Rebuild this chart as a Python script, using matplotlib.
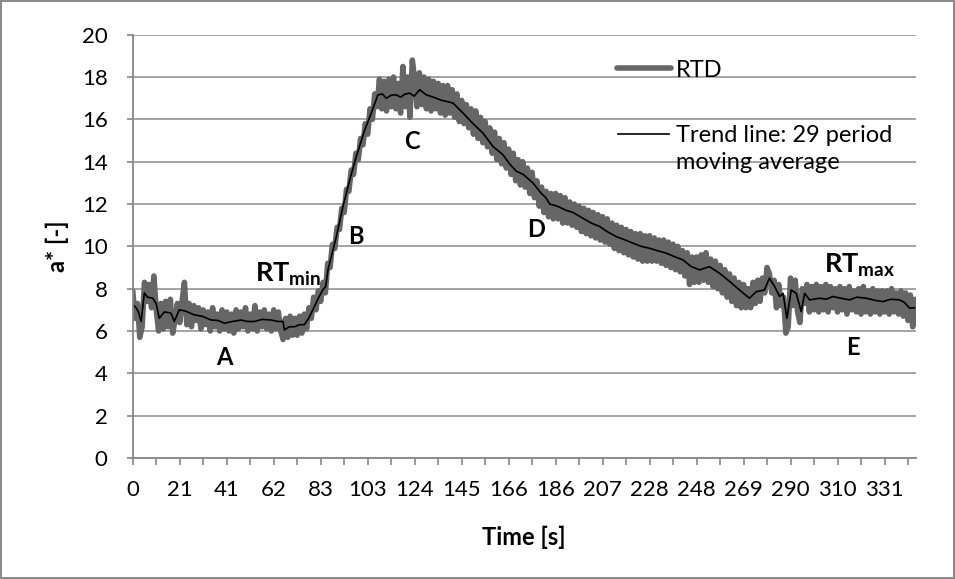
import matplotlib
matplotlib.use("Agg")
import matplotlib.pyplot as plt
from matplotlib.lines import Line2D
import numpy as np

plt.rcParams['font.family'] = ['Lato', 'DejaVu Sans']
plt.rcParams['mathtext.fontset'] = 'custom'
plt.rcParams['mathtext.rm'] = 'Lato'
plt.rcParams['mathtext.bf'] = 'Lato:bold'

# --- data ---
rtd_step = 1.035  # s between RTD samples shown
rtd_values = [
    # 0 - 20 s
    7.9, 6.6, 7.3, 5.7, 6.2, 8.3, 7.4, 8.2, 7.1, 8.6, 7.0, 6.0, 7.3, 6.1, 7.4, 6.2, 7.5, 5.9, 6.5, 7.3,
    # 21 - 40 s
    6.4, 7.4, 8.3, 6.3, 7.3, 6.2, 7.2, 6.5, 7.1, 6.1, 7.0, 6.3, 6.9, 6.0, 7.1, 6.2, 6.8, 6.0, 7.0, 6.1,
    # 41 - 61 s
    6.9, 6.0, 6.8, 5.9, 7.0, 6.1, 6.9, 6.2, 7.1, 6.0, 6.8, 6.1, 7.2, 6.0, 6.9, 6.2, 7.0, 6.1, 6.8, 6.0,
    # 62 - 82 s
    7.0, 6.1, 6.9, 6.0, 5.6, 6.6, 5.7, 6.7, 5.8, 6.6, 5.8, 6.7, 5.9, 6.8, 6.1, 7.1, 6.6, 7.6, 7.0, 7.9,
    # 83 - 102 s
    7.4, 8.3, 7.8, 9.2, 9.0, 10.1, 9.9, 10.9, 10.8, 11.8, 11.6, 12.7, 12.6, 13.6, 13.4, 14.4, 14.1, 15.1, 14.8, 15.8,
    # 103 - 123 s
    15.3, 16.5, 16.0, 17.2, 16.6, 17.9, 16.5, 17.8, 16.4, 17.9, 16.6, 18.0, 16.5, 17.7, 16.3, 18.5, 16.6, 18.0, 16.1, 18.8,
    # 124 - 144 s
    17.9, 16.6, 18.2, 16.7, 18.0, 16.5, 17.9, 16.4, 17.8, 16.5, 17.7, 16.3, 17.6, 16.2, 17.6, 16.3, 17.4, 16.1, 17.2, 15.9,
    # 145 - 165 s
    16.9, 15.8, 16.7, 15.6, 16.5, 15.3, 16.4, 15.1, 16.1, 14.9, 15.9, 14.7, 15.6, 14.4, 15.4, 14.1, 15.1, 13.9, 14.9, 13.7,
    # 166 - 185 s
    14.6, 13.4, 14.4, 13.1, 14.1, 12.9, 14.0, 12.8, 13.7, 12.5, 13.5, 12.3, 13.1, 11.9, 12.8, 11.6, 12.6, 11.4, 12.5, 11.3,
    # 186 - 206 s
    12.5, 11.3, 12.4, 11.1, 12.3, 11.1, 12.1, 11.0, 12.0, 10.9, 11.9, 10.7, 11.8, 10.6, 11.7, 10.5, 11.6, 10.4, 11.5, 10.3,
    # 207 - 227 s
    11.4, 10.2, 11.3, 10.1, 11.1, 9.9, 11.0, 9.8, 10.9, 9.7, 10.8, 9.6, 10.7, 9.5, 10.6, 9.4, 10.6, 9.3, 10.5, 9.3,
    # 228 - 247 s
    10.5, 9.3, 10.4, 9.3, 10.3, 9.2, 10.3, 9.1, 10.2, 9.0, 10.1, 8.9, 10.0, 8.8, 9.8, 8.6, 9.7, 8.2, 9.5, 8.3,
    # 248 - 268 s
    9.5, 8.3, 9.6, 8.4, 9.7, 8.3, 9.4, 8.1, 9.3, 8.0, 9.1, 7.8, 8.9, 7.6, 8.7, 7.4, 8.5, 7.2, 8.3, 7.1,
    # 269 - 289 s
    8.2, 7.1, 8.0, 7.1, 8.3, 7.3, 8.4, 7.4, 8.5, 7.8, 9.0, 8.7, 7.8, 8.4, 7.1, 8.2, 7.2, 7.6, 5.9, 6.2,
    # 290 - 310 s
    8.5, 7.2, 8.4, 6.9, 6.4, 8.0, 7.3, 8.2, 6.9, 8.1, 7.0, 8.2, 6.9, 8.1, 7.0, 8.2, 6.9, 8.1, 7.1, 8.0,
    # 310 - 330 s
    6.9, 8.1, 7.0, 8.0, 6.8, 8.1, 7.0, 7.9, 6.9, 8.0, 6.8, 8.1, 6.9, 7.9, 6.8, 8.0, 6.9, 7.9, 6.8, 7.9,
    # 331 - 345 s
    6.9, 7.9, 6.8, 8.0, 6.9, 7.8, 6.8, 7.9, 6.7, 7.8, 6.5, 7.7, 6.2, 7.5,
]

trend_t = [
    0, 1.5, 2.5, 3.7, 5.1, 6.5, 8.8, 10.3, 11.7, 13.9, 16.8, 18.3, 20.5, 23.0,
    27.2, 30.5, 34.5, 37.5, 40.4, 44, 47.7, 50.5, 53.6, 57, 60.9, 64, 66.2,
    66.8, 69, 71.2, 73.5, 75.6, 77.5, 80, 82, 83.7, 85, 86, 89.7, 92.6, 95.6,
    98.5, 102.2, 105.1, 108, 110, 111.7, 114, 116.1, 118, 120, 122, 124,
    126.4, 129.3, 131, 133.7, 136, 138.2, 141.1, 145.5, 149.9, 154.3, 158.7,
    163.1, 166, 169, 172, 176.3, 180, 182, 183.7, 187, 191, 194, 198.3, 202,
    205.7, 209, 213, 217, 220.4, 224, 227.7, 231, 235, 239, 242.4, 246,
    249.7, 254.1, 258.5, 263, 267.3, 271.7, 274.7, 278.3, 280.5, 282.8, 285,
    286.5, 288.2, 290.1, 292.3, 294.5, 296, 298.2, 302.6, 305.5, 308.4, 312,
    315.8, 319, 323.1, 327, 330.5, 334, 337.8, 340, 342.2, 344.4,
]
trend_v = [
    7.25, 7.1, 6.9, 6.45, 7.8, 7.6, 7.55, 7.3, 6.6, 6.9, 6.85, 6.45, 7.0, 6.95,
    6.76, 6.7, 6.52, 6.5, 6.37, 6.45, 6.52, 6.45, 6.45, 6.55, 6.52, 6.45, 6.45,
    6.05, 6.2, 6.2, 6.3, 6.3, 6.6, 7.15, 7.6, 7.94, 8.1, 8.89, 10.46, 11.88, 13.14,
    14.25, 15.5, 16.3, 17.16, 17.2, 17.0, 17.15, 17.16, 17.05, 17.2, 17.24, 17.1,
    17.4, 17.16, 17.1, 17.0, 16.9, 16.85, 16.77, 16.3, 15.8, 15.35, 14.72,
    14.33, 13.9, 13.55, 13.4, 13.0, 12.5, 12.3, 12.0, 11.9, 11.7, 11.6, 11.33, 11.1,
    10.94, 10.7, 10.46, 10.3, 10.15, 10.0, 9.91, 9.8, 9.68, 9.5, 9.36, 9.05,
    8.89, 9.04, 8.73, 8.34, 7.94, 7.55, 7.86, 7.94, 8.5, 8.1, 7.63,
    7.78, 6.6, 7.94, 7.78, 6.92, 7.78, 7.47, 7.55, 7.5, 7.63, 7.55,
    7.47, 7.6, 7.55, 7.45, 7.39, 7.5, 7.47, 7.35, 7.08, 7.1,
]

x_labels = ['0', '21', '41', '62', '83', '103', '124', '145', '166', '186',
            '207', '228', '248', '269', '290', '310', '331']
label_step = 20.7

rtd_t = np.arange(len(rtd_values)) * rtd_step

fig = plt.figure(figsize=(9.55, 5.79), dpi=100)
fig.patch.set_edgecolor('#8a8a8a')
fig.patch.set_linewidth(1.5)
ax = fig.add_axes([0.139, 0.209, 0.82, 0.731])

rtd_line, = ax.plot(rtd_t, rtd_values, color='#666666', lw=4.0,
                    solid_joinstyle='round', solid_capstyle='round', label='RTD')
trend_line, = ax.plot(trend_t, trend_v, color='black', lw=1.2,
                      label='Trend line: 29 period')

ax.set_xlim(0, 345)
ax.set_ylim(0, 20)
ax.set_yticks(np.arange(0, 21, 2))
ax.set_xticks(np.arange(len(x_labels)) * label_step)
ax.set_xticklabels(x_labels)
ax.set_xticks(np.arange(len(x_labels)) * label_step + label_step / 2, minor=True)

ax.grid(axis='y', color='#8c8c8c', lw=1.1)
ax.set_axisbelow(True)
for s in ['top', 'right']:
    ax.spines[s].set_visible(False)
for s in ['left', 'bottom']:
    ax.spines[s].set_color('#868686')
    ax.spines[s].set_linewidth(1.3)

ax.tick_params(axis='x', which='both', direction='out', length=5,
               color='#868686', width=1.2, pad=11, labelsize=16)
ax.tick_params(axis='y', direction='out', length=4, color='#868686',
               width=1.2, pad=14, labelsize=16)

ax.set_xlabel('Time [s]', fontsize=17, fontweight='bold', labelpad=18)
ax.set_ylabel('a* [-]', fontsize=17, fontweight='bold', labelpad=9)

# legend: two blocks, like the Excel original
leg1 = ax.legend(handles=[rtd_line], loc='center left',
                 bbox_to_anchor=(617 / 955, 1 - 70 / 579),
                 bbox_transform=fig.transFigure, frameon=False, fontsize=17,
                 handlelength=2.3, handletextpad=0.2, borderpad=0,
                 borderaxespad=0)
ax.add_artist(leg1)
blank = Line2D([], [], color='none')
ax.legend(handles=[trend_line, blank],
          labels=['Trend line: 29 period', 'moving average'],
          loc='center left', bbox_to_anchor=(618 / 955, 1 - 149 / 579),
          bbox_transform=fig.transFigure, frameon=False, fontsize=17,
          handlelength=2.15, handletextpad=0.3, borderpad=0, borderaxespad=0,
          labelspacing=0.25)

ann = dict(fontsize=17, fontweight='bold', ha='center', va='center')
ax.text(40.5, 4.73, 'A', **ann)
ax.text(98.2, 10.45, 'B', **ann)
ax.text(122.9, 14.94, 'C', **ann)
ax.text(177.5, 10.78, 'D', **ann)
ax.text(317.1, 5.2, 'E', **ann)
ax.text(68.5, 8.7, r'$\mathbf{RT}_{\mathbf{min}}$', fontsize=19.5,
        ha='center', va='center')
ax.text(320.2, 9.1, r'$\mathbf{RT}_{\mathbf{max}}$', fontsize=19.5,
        ha='center', va='center')

fig.savefig('out.png', dpi=100, edgecolor=fig.get_edgecolor())
